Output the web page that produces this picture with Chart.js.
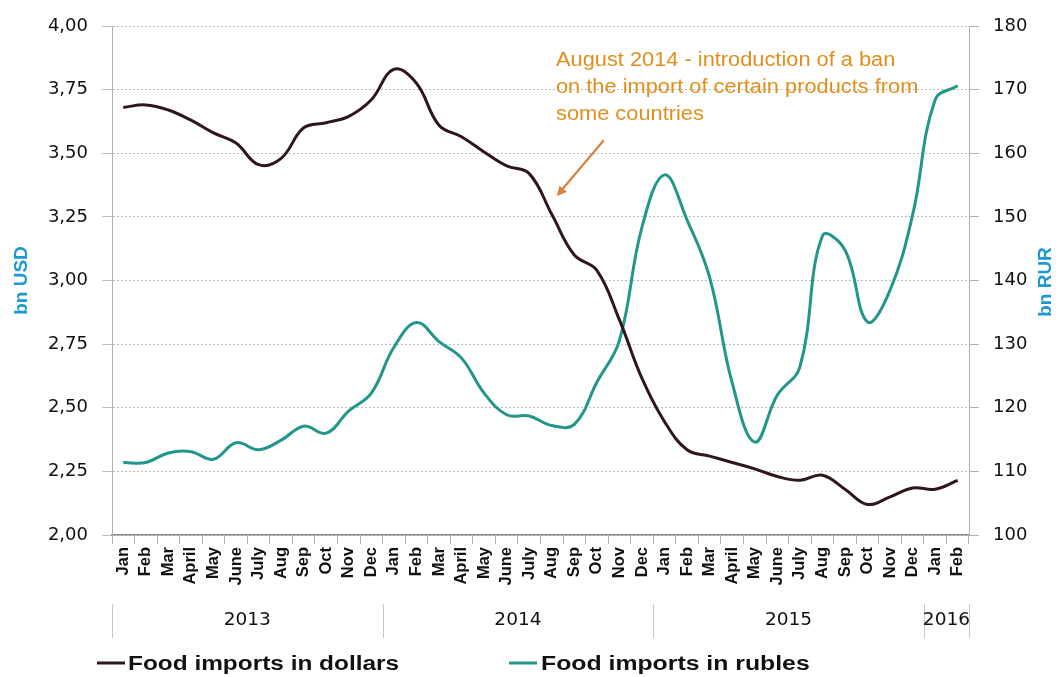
<!DOCTYPE html>
<html>
<head>
<meta charset="utf-8">
<script src="https://cdn.jsdelivr.net/npm/chart.js@4.4.1/dist/chart.umd.min.js"></script>
<style>
  html, body { margin: 0; padding: 0; background: #ffffff; }
  #wrap { width: 1062px; height: 677px; position: relative; }
</style>
</head>
<body>
<div id="wrap"><canvas id="c" width="1062" height="677"></canvas></div>
<script>
// ---- data ----
const monthLabels = [
  'Jan','Feb','Mar','April','May','June','July','Aug','Sep','Oct','Nov','Dec',
  'Jan','Feb','Mar','April','May','June','July','Aug','Sep','Oct','Nov','Dec',
  'Jan','Feb','Mar','April','May','June','July','Aug','Sep','Oct','Nov','Dec',
  'Jan','Feb'
];
const yearLabels = ['2013', '2014', '2015', '2016'];
const yearMonthCounts = [12, 12, 12, 2];

// bn USD (left axis)
const importsUSD = [
  3.68, 3.69, 3.67, 3.63, 3.58, 3.54, 3.455, 3.48, 3.60, 3.62, 3.645, 3.71,
  3.83, 3.775, 3.61, 3.565, 3.505, 3.45, 3.42, 3.26, 3.10, 3.04, 2.845, 2.615,
  2.445, 2.335, 2.31, 2.285, 2.26, 2.23, 2.215, 2.235, 2.18, 2.12, 2.15, 2.185,
  2.18, 2.215
];
// bn RUR (right axis)
const importsRUR = [
  111.4, 111.4, 112.9, 113.1, 111.9, 114.5, 113.4, 114.9, 117.1, 116.0, 119.5, 122.3,
  129.5, 133.4, 130.4, 127.8, 122.3, 118.9, 118.7, 117.2, 117.4, 124.0, 130.6, 148.4,
  156.6, 149.5, 140.5, 123.9, 114.6, 122.0, 126.4, 147.0, 144.8, 133.5, 138.5, 150.3,
  168.4, 170.6
];
const usdTicks = { min: 2, max: 4, step: 0.25 };
const rurTicks = { min: 100, max: 180, step: 10 };

const seriesNames = ['Food imports in dollars', 'Food imports in rubles'];
const axisTitles = ['bn USD', 'bn RUR'];
const annotationLines = [
  'August 2014 - introduction of a ban',
  'on the import of certain products from',
  'some countries'
];
const annotationMonthIndex = 19; // Aug 2014

// ---- styles ----
const COL_USD = '#2f1719';
const COL_RUR = '#23968c';
const COL_TITLE = '#1d9ad3';
const COL_ANN = '#e08e1c';
const COL_ARROW = '#d8803c';
const TICK_FONT = { family: 'DejaVu Sans', size: 18 };

function drawScaledText(ctx, text, x, y, font, color, sx, align) {
  ctx.save();
  ctx.font = font;
  ctx.fillStyle = color;
  ctx.textBaseline = 'middle';
  ctx.textAlign = align || 'left';
  ctx.translate(x, y);
  ctx.scale(sx, 1);
  ctx.fillText(text, 0, 0);
  ctx.restore();
}

const decorPlugin = {
  id: 'decor',
  afterDraw(chart) {
    const ctx = chart.ctx;
    const xs = chart.scales.x;
    const yl = chart.scales.y;
    const ca = chart.chartArea;
    const step = (ca.right - ca.left) / monthLabels.length;

    // year row
    ctx.save();
    ctx.strokeStyle = '#c8c8c8';
    ctx.lineWidth = 1;
    let start = 0;
    const bounds = [ca.left];
    yearMonthCounts.forEach(n => { start += n; bounds.push(ca.left + start * step); });
    bounds.forEach(bx => {
      ctx.beginPath();
      ctx.moveTo(Math.round(bx) + 0.5, 604);
      ctx.lineTo(Math.round(bx) + 0.5, 638);
      ctx.stroke();
    });
    ctx.restore();
    yearLabels.forEach((yl2, i) => {
      const cx = (bounds[i] + bounds[i + 1]) / 2;
      drawScaledText(ctx, yl2, cx, 620, '18px "DejaVu Sans"', '#111', 1.03, 'center');
    });

    // legend
    ctx.save();
    ctx.lineWidth = 3;
    ctx.strokeStyle = COL_USD;
    ctx.beginPath(); ctx.moveTo(97, 663); ctx.lineTo(125, 663); ctx.stroke();
    ctx.strokeStyle = COL_RUR;
    ctx.beginPath(); ctx.moveTo(509, 663); ctx.lineTo(537, 663); ctx.stroke();
    ctx.restore();
    drawScaledText(ctx, seriesNames[0], 128, 664, 'bold 20px "Liberation Sans"', '#111', 1.22);
    drawScaledText(ctx, seriesNames[1], 541, 664, 'bold 20px "Liberation Sans"', '#111', 1.24);

    // right axis title (reads bottom to top)
    ctx.save();
    ctx.translate(1046, 282);
    ctx.rotate(-Math.PI / 2);
    ctx.font = 'bold 19px "Liberation Sans"';
    ctx.fillStyle = COL_TITLE;
    ctx.textAlign = 'center';
    ctx.textBaseline = 'middle';
    ctx.fillText(axisTitles[1], 0, 0);
    ctx.restore();

    // annotation
    annotationLines.forEach((t, i) => {
      drawScaledText(ctx, t, 556, 60 + i * 27, '20px "Liberation Sans"', COL_ANN, 1.09);
    });
    const tipX = xs.getPixelForValue(annotationMonthIndex) + 5;
    const tipY = yl.getPixelForValue(importsUSD[annotationMonthIndex]) - 18;
    const tailX = tipX + 47, tailY = tipY - 56;
    ctx.save();
    ctx.strokeStyle = COL_ARROW;
    ctx.fillStyle = COL_ARROW;
    ctx.lineWidth = 2.2;
    ctx.beginPath(); ctx.moveTo(tailX, tailY); ctx.lineTo(tipX + 3, tipY - 4); ctx.stroke();
    const ang = Math.atan2(tipY - tailY, tipX - tailX);
    ctx.beginPath();
    ctx.moveTo(tipX, tipY);
    ctx.lineTo(tipX - 11 * Math.cos(ang - 0.45), tipY - 11 * Math.sin(ang - 0.45));
    ctx.lineTo(tipX - 11 * Math.cos(ang + 0.45), tipY - 11 * Math.sin(ang + 0.45));
    ctx.closePath();
    ctx.fill();
    ctx.restore();
  }
};

const chart = new Chart(document.getElementById('c'), {
  type: 'line',
  data: {
    labels: monthLabels,
    datasets: [
      {
        label: seriesNames[0], data: importsUSD, yAxisID: 'y',
        borderColor: COL_USD, borderWidth: 3, pointRadius: 0, tension: 0.4, fill: false
      },
      {
        label: seriesNames[1], data: importsRUR, yAxisID: 'y1',
        borderColor: COL_RUR, borderWidth: 3, pointRadius: 0, tension: 0.4, fill: false
      }
    ]
  },
  options: {
    responsive: false,
    devicePixelRatio: 1,
    animation: false,
    layout: { padding: { top: 26, left: 0, right: 0, bottom: 0 } },
    plugins: { legend: { display: false }, tooltip: { enabled: false } },
    scales: {
      x: {
        type: 'category',
        offset: true,
        border: { color: '#8a8a8a', width: 1.5 },
        grid: { offset: true, drawOnChartArea: false, tickLength: 9, color: '#b5b5b5' },
        ticks: {
          autoSkip: false, maxRotation: 90, minRotation: 90, padding: 3,
          color: '#111', font: { family: 'Liberation Sans', size: 16.5, weight: 'bold' }
        },
        afterFit(s) { s.height = 142; }
      },
      y: {
        position: 'left',
        min: usdTicks.min, max: usdTicks.max,
        border: { color: '#b0b0b0', width: 1, dash: [2, 2] },
        grid: { color: '#bcbcbc', tickLength: 10 },
        ticks: {
          stepSize: usdTicks.step, padding: 14, color: '#111', font: TICK_FONT,
          callback: v => v.toFixed(2).replace('.', ',')
        },
        title: {
          display: true, text: axisTitles[0], color: COL_TITLE,
          font: { family: 'Liberation Sans', size: 19, weight: 'bold' },
          padding: { top: 10, bottom: 0 }
        },
        afterFit(s) { s.width = 112; }
      },
      y1: {
        position: 'right',
        min: rurTicks.min, max: rurTicks.max,
        border: { color: '#b0b0b0', width: 1 },
        grid: { drawOnChartArea: false, color: '#b0b0b0', tickLength: 10 },
        ticks: { stepSize: rurTicks.step, padding: 14, color: '#111', font: TICK_FONT },
        afterFit(s) { s.width = 93; }
      }
    }
  },
  plugins: [decorPlugin]
});
</script>
</body>
</html>
